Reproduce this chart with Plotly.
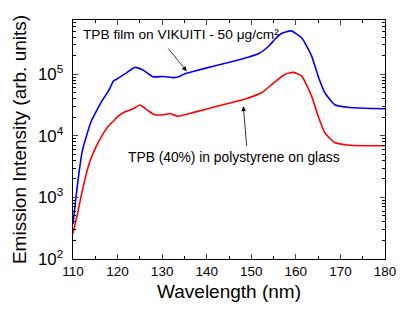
import plotly.graph_objects as go

# Wavelength (nm) and emission intensity
wl_blue = [110.0, 110.66, 111.4, 112.1, 112.9, 114.0, 115.1, 116.5, 118.0, 118.7, 119.1, 119.8, 121.7, 123.9, 125.7, 127.9, 130.4, 132.7, 134.0, 135.0, 137.1, 141.5, 148.1, 151.8, 154.0, 155.3, 156.6, 158.9, 161.3, 163.5, 165.0, 166.5, 168.7, 171.6, 175.5, 180.0]
int_blue = [370, 1000, 2700, 5750, 9300, 16600, 24000, 37000, 54000, 69000, 78000, 83000, 102000, 129000, 117000, 91000, 92000, 88000, 93000, 101000, 112000, 135000, 178000, 219000, 290000, 370000, 450000, 505000, 390000, 200000, 93000, 50000, 32000, 29000, 28000, 27500]

wl_red = [110.0, 111.0, 112.1, 113.6, 115.1, 116.5, 118.0, 119.1, 120.2, 121.7, 123.5, 125.0, 126.8, 128.3, 130.4, 131.8, 133.5, 137.1, 142.9, 148.8, 152.5, 154.7, 157.6, 159.5, 161.3, 163.5, 165.0, 166.5, 168.7, 171.6, 175.5, 180.0]
int_red = [262, 540, 1300, 3500, 6500, 10000, 14500, 17400, 21000, 24500, 27500, 31600, 25700, 22000, 22000, 23000, 20800, 24000, 31000, 40000, 51000, 69000, 100000, 107000, 93000, 45000, 21000, 11200, 7800, 7100, 6900, 6900]

x_ticks = [110, 120, 130, 140, 150, 160, 170, 180]
label_blue = "TPB film on VIKUITI - 50 μg/cm²"
label_red = "TPB (40%) in polystyrene on glass"

fig = go.Figure()
fig.add_trace(go.Scatter(x=wl_blue, y=int_blue, mode="lines",
                         line=dict(color="#0000ff", width=1.6, shape="spline", smoothing=0.5),
                         showlegend=False, hoverinfo="skip"))
fig.add_trace(go.Scatter(x=wl_red, y=int_red, mode="lines",
                         line=dict(color="#ff0000", width=1.6, shape="spline", smoothing=0.5),
                         showlegend=False, hoverinfo="skip"))

fnt = "Liberation Sans, Arial, sans-serif"

fig.add_annotation(x=135.5, y=5.05, ax=131.1, ay=5.44, xref="x", yref="y", axref="x", ayref="y",
                   text="", showarrow=True, arrowhead=2, arrowsize=1.2, arrowwidth=0.8, arrowcolor="black")
fig.add_annotation(x=148.2, y=4.48, ax=149.0, ay=3.81, xref="x", yref="y", axref="x", ayref="y",
                   text="", showarrow=True, arrowhead=2, arrowsize=1.2, arrowwidth=0.8, arrowcolor="black")
fig.add_annotation(x=111.9, y=5.65, xref="x", yref="y", text=label_blue, showarrow=False,
                   xanchor="left", yanchor="middle", font=dict(family=fnt, size=13.7, color="black"))
fig.add_annotation(x=146.1, y=3.65, xref="x", yref="y", text=label_red, showarrow=False,
                   xanchor="center", yanchor="middle", font=dict(family=fnt, size=13.8, color="black"))

# page body has an 8px default margin, so the figure is shifted by 8px
fig.update_layout(
    width=401, height=305,
    margin=dict(l=59, r=24, t=11, b=54),
    paper_bgcolor="white", plot_bgcolor="white",
    font=dict(family=fnt, size=13, color="black"),
)
fig.update_xaxes(range=[110, 180], tickvals=x_ticks, ticks="inside", ticklen=5, tickwidth=1,
                 showline=True, linecolor="black", linewidth=1, mirror="ticks", showgrid=False,
                 zeroline=False, tickfont=dict(size=13.5),
                 minor=dict(dtick=5, tick0=110, ticks="inside", ticklen=3, tickcolor="black", showgrid=False),
                 title=dict(text="Wavelength (nm)", font=dict(size=19), standoff=6))
fig.update_yaxes(type="log", range=[2, 5.88], dtick=1, exponentformat="power", ticks="inside",
                 ticklen=5, tickwidth=1, showline=True, linecolor="black", linewidth=1,
                 mirror="ticks", showgrid=False, zeroline=False, tickfont=dict(size=13.5),
                 ticklabelstandoff=6,
                 minor=dict(ticks="inside", ticklen=3, tickcolor="black", showgrid=False),
                 title=dict(text="Emission Intensity (arb. units)", font=dict(size=19), standoff=6))

fig.write_html("out.html")
